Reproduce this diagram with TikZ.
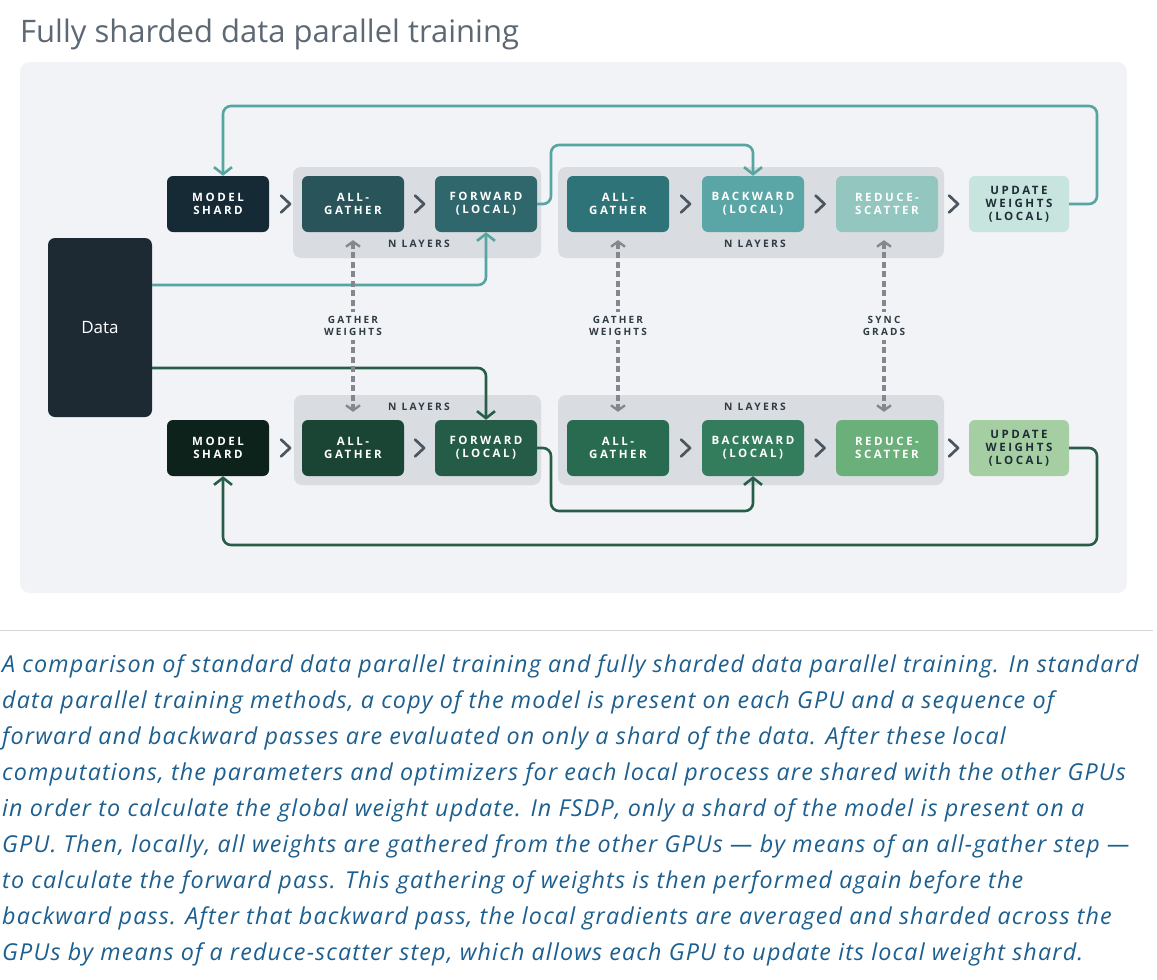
\documentclass[tikz,border=0pt]{standalone}
\usepackage{fontspec}
\setmainfont{Open Sans}
\newfontfamily\labfont[LetterSpace=22]{Open Sans}
\newfontfamily\capfont[LetterSpace=5]{Open Sans}
\usetikzlibrary{arrows.meta,calc}
\definecolor{panel}{HTML}{F1F3F6}
\definecolor{grp}{HTML}{D9DDE1}
\definecolor{titlec}{HTML}{5D6875}
\definecolor{chevc}{HTML}{4B5661}
\definecolor{dashc}{HTML}{84888E}
\definecolor{smallc}{HTML}{2F3B45}
\definecolor{capc}{HTML}{1D5F8F}
\definecolor{datac}{HTML}{1D2A33}
\definecolor{tMS}{HTML}{162A35}
\definecolor{tAG}{HTML}{28545A}
\definecolor{tFW}{HTML}{2F676D}
\definecolor{tAGb}{HTML}{2E7378}
\definecolor{tBW}{HTML}{5AA6A6}
\definecolor{tRS}{HTML}{92C6BF}
\definecolor{tUP}{HTML}{C7E4DE}
\definecolor{bMS}{HTML}{0C221B}
\definecolor{bAG}{HTML}{1A4535}
\definecolor{bFW}{HTML}{245C47}
\definecolor{bAGb}{HTML}{296B50}
\definecolor{bBW}{HTML}{337D5C}
\definecolor{bRS}{HTML}{6BB07A}
\definecolor{bUP}{HTML}{A5CFA2}
\definecolor{tline}{HTML}{57A5A1}
\definecolor{gline}{HTML}{285E48}
\definecolor{darktext}{HTML}{1F2D36}
\tikzset{
  box/.style={rounded corners=6pt, minimum width=102pt, minimum height=56pt, inner sep=0pt,
    align=center, text=white, font=\labfont\bfseries\fontsize{11.5}{13}\selectfont},
  grpbox/.style={fill=grp, rounded corners=8pt, inner sep=0pt},
  nlay/.style={text=smallc, font=\labfont\bfseries\fontsize{10.3}{12}\selectfont},
  chev/.style={draw=chevc, line width=2.7pt, line cap=round, line join=round},
  tl/.style={draw=tline, line width=2.6pt, rounded corners=8pt, -{Straight Barb[length=7pt,width=18pt,line width=2.6pt]}},
  gl/.style={draw=gline, line width=2.6pt, rounded corners=8pt, -{Straight Barb[length=7pt,width=18pt,line width=2.6pt]}},
  dsh/.style={draw=dashc, line width=3.2pt, dash pattern=on 6pt off 3.5pt,
    {Straight Barb[length=5pt,width=14pt,line width=2.4pt]}-{Straight Barb[length=5pt,width=14pt,line width=2.4pt]}, shorten >=8pt, shorten <=8pt},
  dlab/.style={fill=panel, inner sep=5pt, align=center, text=smallc, font=\labfont\bfseries\fontsize{10}{11.5}\selectfont},
  capline/.style={anchor=base west, inner sep=0pt, text=capc, font=\capfont\itshape\fontsize{23.3}{26}\selectfont}
}
\begin{document}
\begin{tikzpicture}[x=1pt,y=-1pt]
\useasboundingbox[fill=white] (0,0) rectangle (1157,980);
% title
\node[anchor=base west, inner sep=0pt, text=titlec, font=\fontsize{31}{34}\selectfont] (title) at (20,42) {Fully sharded data parallel training};
% panel
\fill[panel, rounded corners=10pt] (20,62) rectangle (1127,593);
% groups
\node[grpbox, minimum width=248pt, minimum height=91pt] (g1t) at (417,212.5) {};
\node[grpbox, minimum width=386pt, minimum height=91pt] (g2t) at (751,212.5) {};
\node[grpbox, minimum width=247pt, minimum height=90pt] (g1b) at (417.5,440) {};
\node[grpbox, minimum width=386pt, minimum height=90pt] (g2b) at (751,440) {};
\node[nlay] (nl1) at (419,244) {N LAYERS};
\node[nlay] (nl2) at (755,244) {N LAYERS};
\node[nlay] (nl3) at (419,407) {N LAYERS};
\node[nlay] (nl4) at (755,407) {N LAYERS};
% data
\node[fill=datac, rounded corners=7pt, minimum width=104pt, minimum height=179pt, inner sep=0pt,
  text=white, font=\fontsize{17}{20}\selectfont] (data) at (100,327.5) {Data};
% top row
\node[box, fill=tMS] (ms) at (218,204) {MODEL\\SHARD};
\node[box, fill=tAG] (ag1) at (353,204) {ALL-\\GATHER};
\node[box, fill=tFW] (fw) at (486,204) {FORWARD\\(LOCAL)};
\node[box, fill=tAGb] (ag2) at (618,204) {ALL-\\GATHER};
\node[box, fill=tBW] (bw) at (753,204) {BACKWARD\\(LOCAL)};
\node[box, fill=tRS] (rs) at (887,204) {REDUCE-\\SCATTER};
\node[box, fill=tUP, minimum width=100pt, text=darktext] (up) at (1019,204) {UPDATE\\WEIGHTS\\(LOCAL)};
% bottom row
\node[box, fill=bMS] (msB) at (218,448) {MODEL\\SHARD};
\node[box, fill=bAG] (ag1B) at (353,448) {ALL-\\GATHER};
\node[box, fill=bFW] (fwB) at (486,448) {FORWARD\\(LOCAL)};
\node[box, fill=bAGb] (ag2B) at (618,448) {ALL-\\GATHER};
\node[box, fill=bBW] (bwB) at (753,448) {BACKWARD\\(LOCAL)};
\node[box, fill=bRS] (rsB) at (887,448) {REDUCE-\\SCATTER};
\node[box, fill=bUP, minimum width=100pt, text=darktext] (upB) at (1019,448) {UPDATE\\WEIGHTS\\(LOCAL)};
% chevrons
\foreach \a/\b in {ms/ag1, ag1/fw, ag2/bw, bw/rs, rs/up, msB/ag1B, ag1B/fwB, ag2B/bwB, bwB/rsB, rsB/upB}
  \draw[chev] ($(\a.east)!.5!(\b.west)+(-4.5,-8.5)$) -- ++(9,8.5) -- ++(-9,8.5);
% connectors
\coordinate (loopT) at (1097,106);
\coordinate (c1) at (551,145);
\coordinate (c2) at (551,511);
\coordinate (loopB) at (1097,545);
\draw[tl] (up.east) -| (loopT) -| ([xshift=5pt]ms.north);
\draw[tl] (fw.east) -| (c1) -| (bw.north);
\draw[tl] ([yshift=42.5pt]data.east) -| (fw.south);
\draw[gl] ([yshift=-40.5pt]data.east) -| (fwB.north);
\draw[gl] (fwB.east) -| (c2) -| (bwB.south);
\draw[gl] (upB.east) -| (loopB) -| ([xshift=5pt]msB.south);
% dashed sync arrows
\draw[dsh] (ag1.south) -- (ag1B.north) node[dlab, midway] (lab1) {GATHER\\WEIGHTS};
\draw[dsh] (ag2.south) -- (ag2B.north) node[dlab, midway] (lab2) {GATHER\\WEIGHTS};
\draw[dsh] ([xshift=-3pt]rs.south) -- ([xshift=-3pt]rsB.north) node[dlab, midway] (lab3) {SYNC\\GRADS};
% separator
\draw[draw=black!17, line width=1pt] (0,630) -- (1153,630);
% caption
\node[capline] (cap1) at (2,672) {A comparison of standard data parallel training and fully sharded data parallel training. In standard};
\node[capline] (cap2) at (2,708) {data parallel training methods, a copy of the model is present on each GPU and a sequence of};
\node[capline] (cap3) at (2,744) {forward and backward passes are evaluated on only a shard of the data. After these local};
\node[capline] (cap4) at (2,780) {computations, the parameters and optimizers for each local process are shared with the other GPUs};
\node[capline] (cap5) at (2,816) {in order to calculate the global weight update. In FSDP, only a shard of the model is present on a};
\node[capline] (cap6) at (2,852) {GPU. Then, locally, all weights are gathered from the other GPUs — by means of an all-gather step —};
\node[capline] (cap7) at (2,888) {to calculate the forward pass. This gathering of weights is then performed again before the};
\node[capline] (cap8) at (2,924) {backward pass. After that backward pass, the local gradients are averaged and sharded across the};
\node[capline] (cap9) at (2,960) {GPUs by means of a reduce-scatter step, which allows each GPU to update its local weight shard.};
\end{tikzpicture}
\end{document}
